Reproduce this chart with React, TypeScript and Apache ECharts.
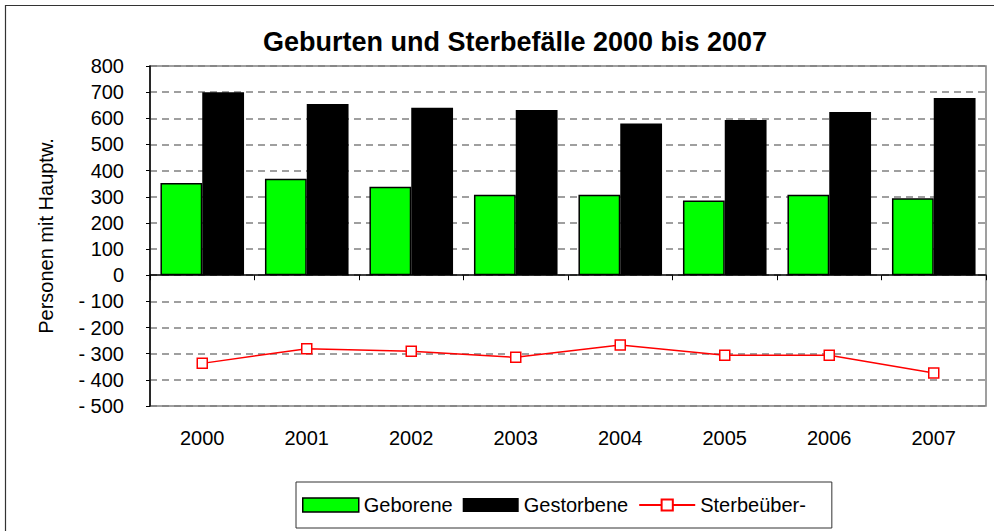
import React, { useEffect, useRef } from "react";
import * as echarts from "echarts";

const years = ["2000", "2001", "2002", "2003", "2004", "2005", "2006", "2007"];
const geborene = [353, 369, 338, 308, 308, 286, 308, 294];
const gestorbene = [700, 655, 640, 632, 580, 594, 624, 678];
const sterbeueberschuss = [-337, -281, -291, -314, -267, -306, -306, -374];

const FONT = "Liberation Sans, Arial, sans-serif";

export default function App() {
  const ref = useRef<HTMLDivElement>(null);
  useEffect(() => {
    if (!ref.current) return;
    const chart = echarts.init(ref.current, undefined, { renderer: "svg" });
    chart.setOption({
      animation: false,
      backgroundColor: "#ffffff",
      textStyle: { fontFamily: FONT },
      title: {
        text: "Geburten und Sterbefälle 2000 bis 2007",
        left: 510,
        textAlign: "center",
        top: 23,
        textStyle: { fontSize: 27, fontWeight: "bold", color: "#000", fontFamily: FONT },
      },
      graphic: [
        {
          type: "rect",
          shape: { x: 5.5, y: 5.5, width: 1000, height: 540 },
          style: { fill: "none", stroke: "#333", lineWidth: 1.2 },
          silent: true,
          z: 0,
        },
      ],
      legend: {
        left: 296,
        top: 482,
        padding: [13, 26, 13, 6],
        itemGap: 10,
        itemWidth: 56,
        itemHeight: 14,
        borderColor: "#333",
        borderWidth: 1,
        textStyle: { fontSize: 20, color: "#000", fontFamily: FONT },
        data: [
          { name: "Geborene", icon: "rect", itemStyle: { color: "#00ff00", borderColor: "#000", borderWidth: 1.5 } },
          { name: "Gestorbene", icon: "rect" },
          { name: "Sterbeüber-" },
        ],
      },
      grid: {
        left: 150,
        right: 8,
        top: 66,
        bottom: 125,
        show: true,
        borderColor: "#808080",
        borderWidth: 1.5,
        backgroundColor: "transparent",
      },
      xAxis: [
        {
          type: "category",
          data: years,
          position: "bottom",
          axisLine: { onZero: true, lineStyle: { color: "#000", width: 1.5 } },
          axisTick: { show: true, length: 5, lineStyle: { color: "#000", width: 1 } },
          axisLabel: { show: false },
          splitLine: { show: false },
        },
        {
          type: "category",
          data: years,
          position: "bottom",
          axisLine: { show: false, onZero: false },
          axisTick: { show: false },
          axisLabel: { show: true, margin: 22, fontSize: 20, color: "#000", fontFamily: FONT },
        },
      ],
      yAxis: {
        type: "value",
        min: -500,
        max: 800,
        interval: 100,
        name: "Personen mit Hauptw.",
        nameLocation: "middle",
        nameGap: 94,
        nameTextStyle: { fontSize: 20, color: "#000", fontFamily: FONT },
        axisLine: { show: true, lineStyle: { color: "#000", width: 1.5 } },
        axisTick: { show: true, length: 4, lineStyle: { color: "#000" } },
        axisLabel: {
          fontSize: 20,
          color: "#000",
          margin: 26,
          fontFamily: FONT,
          formatter: (v: number) => (v < 0 ? "- " + Math.abs(v) : String(v)),
        },
        splitLine: { show: true, lineStyle: { color: "#808080", width: 1.5, type: [7, 5] } },
      },
      series: [
        {
          name: "Geborene",
          type: "bar",
          data: geborene,
          barGap: "0%",
          barCategoryGap: "20%",
          itemStyle: { color: "#00ff00", borderColor: "#000", borderWidth: 1.5 },
        },
        {
          name: "Gestorbene",
          type: "bar",
          data: gestorbene,
          itemStyle: { color: "#000" },
        },
        {
          name: "Sterbeüber-",
          type: "line",
          data: sterbeueberschuss,
          symbol: "rect",
          symbolSize: 10,
          lineStyle: { color: "#ff0000", width: 1.5 },
          itemStyle: { color: "#ffffff", borderColor: "#ff0000", borderWidth: 1.5 },
          z: 5,
        },
      ],
    });
    return () => chart.dispose();
  }, []);
  return (
    <div
      ref={ref}
      style={{ position: "fixed", left: 0, top: 0, width: 994, height: 531 }}
    />
  );
}
